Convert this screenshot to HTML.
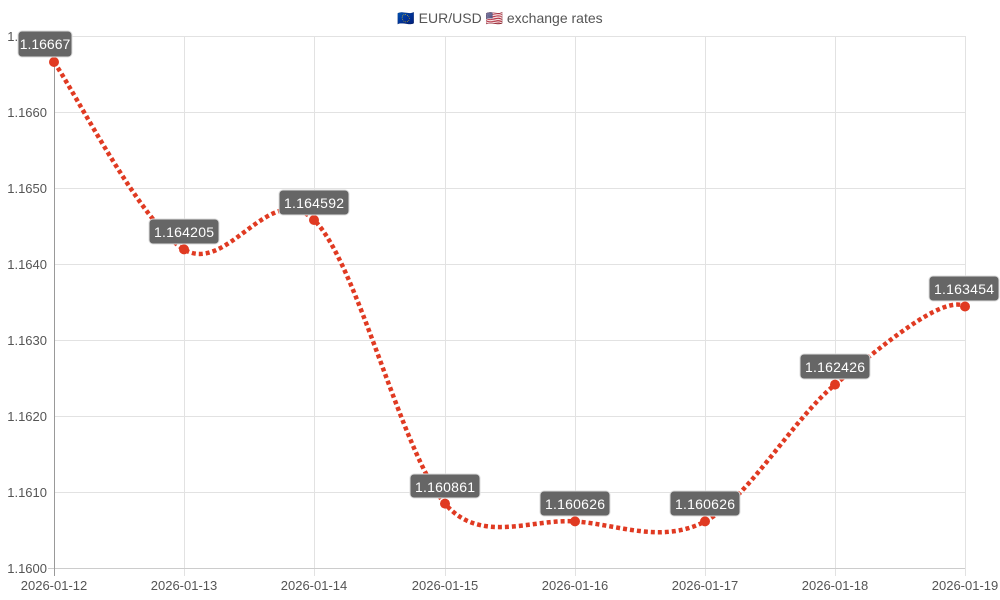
<!DOCTYPE html>
<html><head><meta charset="utf-8"><style>
html,body{margin:0;padding:0;background:#fff}
svg{display:block;font-family:"Liberation Sans",sans-serif}
</style></head><body>
<svg width="1000" height="600" viewBox="0 0 1000 600" xmlns="http://www.w3.org/2000/svg">
<rect width="1000" height="600" fill="#fff"/>
<text x="500" y="23" text-anchor="middle" font-size="14" fill="#555">🇪🇺 EUR/USD 🇺🇸 exchange rates</text>
<g stroke="#e2e2e2" stroke-width="1">
<line x1="54" y1="36.5" x2="965" y2="36.5"/>
<line x1="54" y1="112.5" x2="965" y2="112.5"/>
<line x1="54" y1="188.5" x2="965" y2="188.5"/>
<line x1="54" y1="264.5" x2="965" y2="264.5"/>
<line x1="54" y1="340.5" x2="965" y2="340.5"/>
<line x1="54" y1="416.5" x2="965" y2="416.5"/>
<line x1="54" y1="492.5" x2="965" y2="492.5"/>
<line x1="184.5" y1="36" x2="184.5" y2="576"/>
<line x1="314.5" y1="36" x2="314.5" y2="576"/>
<line x1="445.5" y1="36" x2="445.5" y2="576"/>
<line x1="575.5" y1="36" x2="575.5" y2="576"/>
<line x1="705.5" y1="36" x2="705.5" y2="576"/>
<line x1="835.5" y1="36" x2="835.5" y2="576"/>
<line x1="965.5" y1="36" x2="965.5" y2="576"/>
</g>
<line x1="48" y1="568.5" x2="965" y2="568.5" stroke="#ccc"/>
<line x1="54.5" y1="36" x2="54.5" y2="576" stroke="#999"/>
<g font-size="13" fill="#555" text-anchor="end">
<text x="47" y="41">1.1670</text>
<text x="47" y="117">1.1660</text>
<text x="47" y="193">1.1650</text>
<text x="47" y="269">1.1640</text>
<text x="47" y="345">1.1630</text>
<text x="47" y="421">1.1620</text>
<text x="47" y="497">1.1610</text>
<text x="47" y="573">1.1600</text>
</g>
<g font-size="13" fill="#555" text-anchor="middle">
<text x="54" y="590">2026-01-12</text>
<text x="184" y="590">2026-01-13</text>
<text x="314" y="590">2026-01-14</text>
<text x="445" y="590">2026-01-15</text>
<text x="575" y="590">2026-01-16</text>
<text x="705" y="590">2026-01-17</text>
<text x="835" y="590">2026-01-18</text>
<text x="965" y="590">2026-01-19</text>
</g>
<path d="M54,62 C75.7,93.2 140.7,223.1 184,249.4 C227.3,275.7 270.5,177.6 314,220 C357.5,262.4 401.5,453.4 445,503.6 C480,545 531.7,518.4 575,521.4 C618.3,524.4 661.7,544.2 705,521.4 C748.3,498.6 791.7,420.4 835,384.6 C878.3,348.8 943.3,293.5 965,306.5" fill="none" stroke="#e03a22" stroke-width="4.5" stroke-dasharray="4,3"/>
<g fill="#e03a22">
<circle cx="54" cy="62" r="5"/><circle cx="184" cy="249.4" r="5"/><circle cx="314" cy="220" r="5"/><circle cx="445" cy="503.6" r="5"/><circle cx="575" cy="521.4" r="5"/><circle cx="705" cy="521.4" r="5"/><circle cx="835" cy="384.6" r="5"/><circle cx="965" cy="306.5" r="5"/>
</g>
<g font-size="14" fill="#fff" text-anchor="middle">
<rect x="18" y="31" width="54" height="26" rx="4" fill="#666" stroke="#ddd"/><text x="45" y="49">1.16667</text>
<rect x="149" y="219" width="70" height="25" rx="4" fill="#666" stroke="#ddd"/><text x="184" y="237" textLength="60">1.164205</text>
<rect x="279" y="190" width="70" height="25" rx="4" fill="#666" stroke="#ddd"/><text x="314" y="208" textLength="60">1.164592</text>
<rect x="410" y="474" width="70" height="24" rx="4" fill="#666" stroke="#ddd"/><text x="445" y="492" textLength="60">1.160861</text>
<rect x="540" y="491" width="70" height="25" rx="4" fill="#666" stroke="#ddd"/><text x="575" y="509" textLength="60">1.160626</text>
<rect x="670" y="491" width="70" height="25" rx="4" fill="#666" stroke="#ddd"/><text x="705" y="509" textLength="60">1.160626</text>
<rect x="800" y="354" width="70" height="25" rx="4" fill="#666" stroke="#ddd"/><text x="835" y="372" textLength="60">1.162426</text>
<rect x="929" y="276" width="70" height="25" rx="4" fill="#666" stroke="#ddd"/><text x="964" y="294" textLength="60">1.163454</text>
</g>
</svg>
</body></html>
